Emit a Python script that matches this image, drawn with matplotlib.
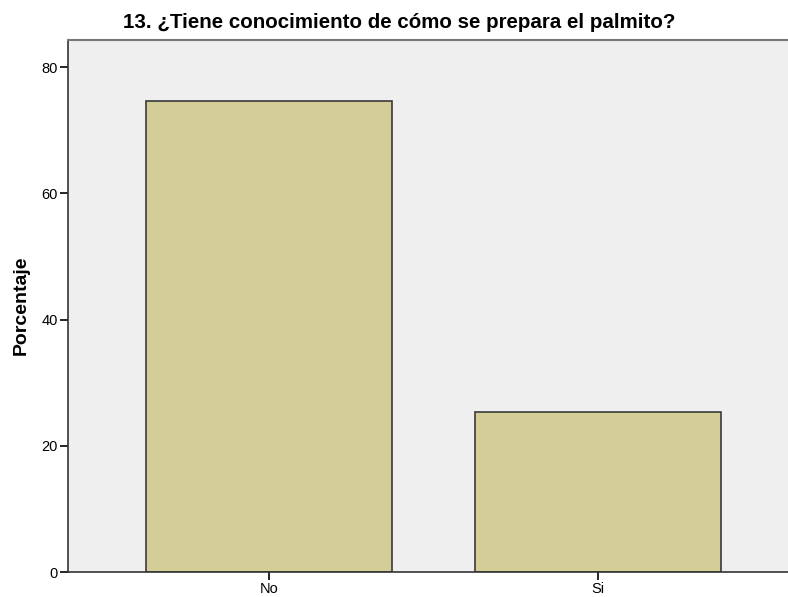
import matplotlib
matplotlib.use('Agg')
import matplotlib.pyplot as plt

categorias = ['No', 'Si']
porcentaje = [74.6, 25.4]

plt.rcParams['font.family'] = ['Liberation Sans', 'DejaVu Sans']

W, H = 788, 597
fig = plt.figure(figsize=(W/100, H/100), dpi=100)
# axes: left edge x=68, top y=40, zero line y=572; right side runs past the picture
ax = fig.add_axes([68/W, (H-572)/H, (799-68)/W, (572-40)/H])
ax.set_facecolor('#EFEFEF')

x = list(range(len(categorias)))
ax.bar(x, porcentaje, width=0.75, color='#D3CE97', edgecolor='#3a3a3a', linewidth=1.2)

ax.set_xlim(-0.611, 1.611)
ax.set_ylim(0, 84.3)
ax.set_xticks(x)
ax.set_xticklabels(categorias)
ax.set_yticks([0, 20, 40, 60, 80])
ax.tick_params(axis='y', direction='out', length=6, width=1.2, labelsize=10.5, pad=1.5)
ax.tick_params(axis='x', direction='out', length=6, width=1.2, labelsize=10.5, pad=1)

ax.spines['right'].set_visible(False)
ax.spines['top'].set_color('#777777')
ax.spines['top'].set_linewidth(1.5)
ax.spines['left'].set_color('#333333')
ax.spines['left'].set_linewidth(1.2)
ax.spines['bottom'].set_color('#333333')
ax.spines['bottom'].set_linewidth(1.2)

fig.text(21/W, 1 - 305/H, 'Porcentaje', rotation=90, ha='center', va='center',
         fontsize=14, fontweight='bold')
fig.text(399/W, 1 - 22/H, '13. ¿Tiene conocimiento de cómo se prepara el palmito?',
         ha='center', va='center', fontsize=14.8, fontweight='bold')

fig.savefig('out.png', dpi=100)
